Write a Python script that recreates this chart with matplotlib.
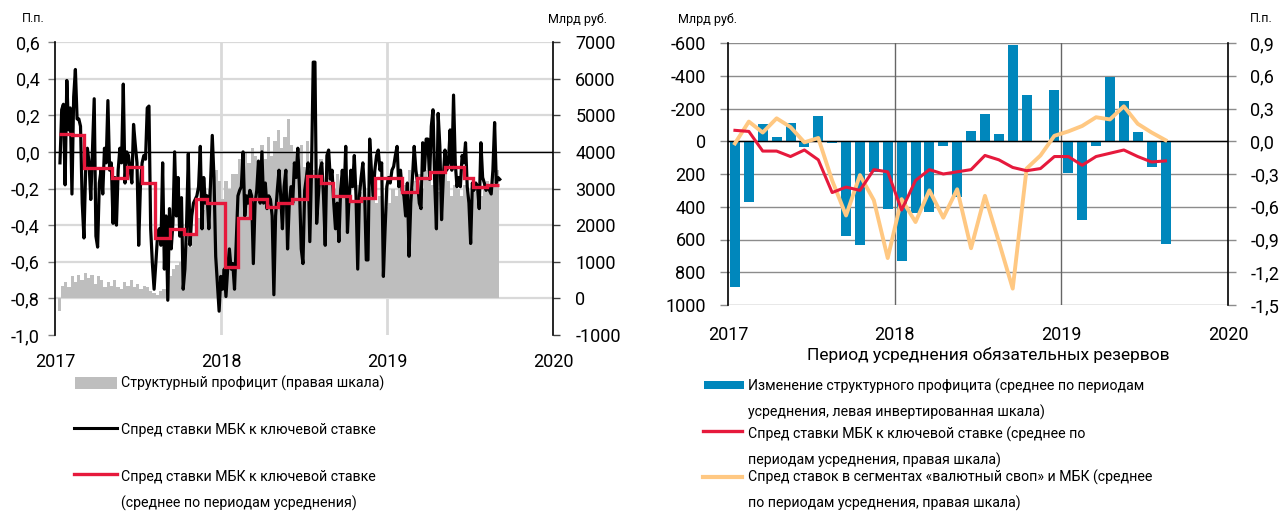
import numpy as np
import matplotlib.pyplot as plt
from matplotlib.lines import Line2D
from matplotlib.patches import Rectangle
import matplotlib.transforms as mtransforms

plt.rcParams['font.family'] = ['Roboto', 'DejaVu Sans']
plt.rcParams['axes.unicode_minus'] = False

W, H = 1286, 515

# ---------------- data: left panel (months since Jan 2017) ----------------
# daily spread of interbank rate to key rate, p.p.
spread = [
    -0.06, 0.23, 0.26, -0.18, 0.39, 0.12, 0.24, -0.23, 0.30, 0.45, 0.18, 0.18, 0.14, -0.28, -0.47,
    -0.10, 0.02, -0.06, -0.26, 0.02, 0.29, -0.46, -0.52, -0.17, -0.10, -0.23, 0.02, -0.06, 0.28,
    -0.10, -0.06, -0.39, -0.14, -0.40, -0.10, 0.02, -0.06, 0.37, -0.17, 0.00, -0.02, -0.10, -0.17,
    0.15, 0.04, -0.06, -0.51, -0.19, -0.06, -0.02, -0.04, 0.24, 0.25, -0.42, -0.61, -0.75, -0.61,
    -0.46, -0.42,
    -0.51, -0.06, -0.64, -0.35, -0.81, -0.31, -0.53, -0.39, 0.00, -0.35, -0.14, -0.46, -0.25, -0.75,
    -0.64, -0.39, -0.01, -0.51, -0.35, -0.28, -0.26, -0.24, -0.19, 0.03, -0.42, -0.14, -0.28, -0.24,
    -0.42, -0.17, 0.09, -0.14, -0.57, -0.72, -0.87, -0.68, -0.75, -0.64, -0.79, -0.64, -0.53, -0.64,
    -0.61, -0.75, -0.50, -0.24, -0.21, -0.19, 0.00, -0.35, -0.24, -0.28, -0.21, -0.24, -0.61, -0.28,
    -0.21, -0.05, -0.28, 0.00, -0.28, -0.17, -0.31, -0.24, -0.26,
    -0.35, -0.78, -0.35, -0.21, -0.10, -0.24, -0.42, -0.19, -0.10, -0.53, -0.28, -0.19, -0.28, -0.06,
    -0.14, 0.02, -0.21, -0.53, -0.61, -0.21, -0.14, -0.06, -0.49, -0.10, 0.49, 0.49, -0.39, -0.24,
    -0.10, -0.06, -0.24, -0.51, -0.02, 0.01, -0.15, -0.10, -0.28, -0.42, -0.28, -0.49, -0.21, -0.10,
    -0.24, 0.03, -0.44, -0.24, -0.10, -0.19, -0.02, -0.24, -0.64, -0.24, -0.14, -0.06, -0.21, -0.59,
    -0.59, 0.07, -0.10, -0.24, -0.10, -0.02, 0.01, -0.10, -0.06, -0.68,
    -0.42, -0.19, -0.14, -0.17, -0.10, -0.08, -0.02, 0.03, -0.19, -0.10, -0.21, -0.24, -0.35, -0.17,
    -0.57, -0.28, -0.14, 0.03, -0.10, -0.17, -0.28, -0.31, 0.05, -0.10, 0.07, 0.07, -0.15, 0.14,
    0.23, -0.17, -0.42, 0.21, 0.03, -0.37, -0.14, 0.01, -0.10, -0.06, 0.12, -0.10, 0.31, -0.06,
    -0.19, -0.14, -0.19, -0.02, -0.06, 0.05, -0.19, -0.28, -0.50, -0.17, -0.21, -0.17, -0.19, -0.31,
    0.05, -0.14, -0.17, -0.21, -0.19, -0.21, -0.23, -0.10, 0.16, -0.17, -0.14, -0.15,
]
spread_start, spread_end = 0.36, 32.15

# weekly structural liquidity surplus, bn rub
surplus = [
    -350, 350, 450, 300, 600, 450, 650, 500, 700, 550, 650, 400, 600, 500, 300, 450,
    350, 500, 300, 250, 450, 350, 500, 300, 400, 250, 350, 300, 200, 150, 100, 200, 250,
    450, 600, 800, 900, 1000, 1200, 1500, 1400, 1700, 2000, 2200, 2400, 2700, 3000, 3300, 3500, 3200,
    2700, 3200, 3000, 3400, 3400, 3800, 3600, 4000, 3700, 4100, 3900, 3600, 4200, 3800, 4400, 3900,
    4300, 4600, 4100, 4400, 4900, 4200, 4000, 3800, 4200, 3600, 4300, 3700, 3500, 3300, 3800, 3100,
    3500, 3200, 3000, 3400, 2900, 3000, 2800, 3300, 2600, 3100, 2900, 3200, 2700, 3000, 3200, 2600,
    2800, 2300, 2500,
    2600, 3000, 2800, 3200, 3300, 3100, 3500, 3000, 3200, 3400, 3000, 3500, 3300, 3100, 3400, 2900,
    3200, 3500, 3200, 2800, 3100, 3000, 2800, 3100, 2700, 2600, 2900, 3000, 2800, 3100, 3200, 3000,
    3400, 3500,
]
surplus_start, surplus_end = 0.3, 32.0

# spread averaged over reserve averaging periods, p.p.
avg_spread = [0.10, 0.09, -0.09, -0.09, -0.14, -0.08, -0.17, -0.47, -0.42, -0.45, -0.26, -0.28,
              -0.63, -0.36, -0.26, -0.30, -0.28, -0.26, -0.13, -0.17, -0.24, -0.27, -0.25, -0.14,
              -0.14, -0.22, -0.14, -0.11, -0.08, -0.14, -0.19, -0.18]
period_edges = [0.3, 1.2, 2.1, 3.1, 4.1, 5.2, 6.3, 7.2, 8.3, 9.3, 10.2, 11.0, 12.3, 13.25, 14.1,
                15.3, 16.1, 17.1, 18.2, 19.2, 20.1, 21.3, 22.1, 23.1, 24.1, 25.1, 26.15, 27.1,
                28.2, 29.6, 30.2, 31.2, 32.1]

# ---------------- data: right panel ----------------
surplus_change = [890, 370, -105, -24, -112, 35, -153, 12, 579, 632, 190, 416, 734, 440, 434, 30,
                  343, -63, -165, -43, -585, -281, -3, -312, 196, 483, 28, -393, -247, -55, 157, 626]
swap_spread = [-0.02, 0.18, 0.08, 0.21, 0.13, -0.01, 0.03, -0.36, -0.68, -0.31, -0.54, -1.07,
               -0.53, -0.74, -0.45, -0.70, -0.44, -0.98, -0.50, -0.92, -1.35, -0.25, -0.13, 0.05,
               0.09, 0.14, 0.22, 0.20, 0.32, 0.16, 0.08, 0.01]

years = ['2017', '2018', '2019', '2020']
year_pos = [0, 12, 24, 36]

RED = '#E6193C'
BLUE = '#0087BC'
ORANGE = '#FFC882'
GRAY = '#BEBEBE'


def comma(v, _=None):
    s = f"{v:.1f}".replace('.', ',')
    return '0,0' if s == '-0,0' else s


def box(l, t, r, b):
    return [l / W, 1 - b / H, (r - l) / W, (b - t) / H]


fig = plt.figure(figsize=(W / 100, H / 100), dpi=100)

# ================= left panel =================
ax1 = fig.add_axes(box(55, 42, 553, 335))
ax1r = ax1.twinx()
ax1.set_zorder(ax1r.get_zorder() + 1)
ax1.patch.set_visible(False)

for v in range(0, 8000, 1000):
    ax1r.axhline(v, color='#d9d9d9', lw=1.6, zorder=0)
for p in year_pos[1:3]:
    ax1r.axvline(p, color='#d9d9d9', lw=2, zorder=0)

t_s = np.linspace(surplus_start, surplus_end, len(surplus))
step = t_s[1] - t_s[0]
ax1r.bar(t_s, surplus, width=step, color=GRAY, linewidth=0, zorder=1)

ax1.axhline(0, color='black', lw=1, zorder=1)
t_d = np.linspace(spread_start, spread_end, len(spread))
ax1.plot(t_d, spread, color='black', lw=2.3, solid_joinstyle='round', zorder=2)
ax1.stairs(avg_spread, period_edges, color=RED, lw=2.4, baseline=None, zorder=3)

ax1.set_xlim(0, 36)
ax1.set_ylim(-1.0, 0.6)
ax1r.set_ylim(-1000, 7000)
ax1.set_yticks(np.round(np.arange(-1.0, 0.61, 0.2), 1))
ax1.yaxis.set_major_formatter(comma)
ax1r.set_yticks(range(-1000, 7001, 1000))
ax1.set_xticks(year_pos)
ax1.set_xticklabels(years)

for s in ['top', 'right', 'bottom']:
    ax1.spines[s].set_visible(False)
for s in ['top', 'left', 'bottom']:
    ax1r.spines[s].set_visible(False)
ax1.spines['left'].set_linewidth(1.2)
ax1r.spines['right'].set_linewidth(1.2)
ax1.tick_params(axis='y', direction='out', length=5, width=1, color='#808080', labelsize=13, pad=6)
ax1r.tick_params(axis='y', direction='out', length=5, width=1, color='#404040', labelsize=13, pad=11)
ax1.tick_params(axis='x', length=0, labelsize=13, pad=13)

fig.text(33 / W, 1 - 18 / H, 'П.п.', ha='center', va='center', fontsize=9)
fig.text(577 / W, 1 - 19 / H, 'Млрд руб.', ha='center', va='center', fontsize=9)

# ================= right panel =================
ax2 = fig.add_axes(box(728, 43, 1228, 305))
ax2r = ax2.twinx()

for v in range(-600, 1001, 200):
    ax2.axhline(v, color='#8c8c8c', lw=1, zorder=0)
for p in year_pos[1:3]:
    ax2.axvline(p, color='#666666', lw=1, zorder=0)

months = np.arange(len(surplus_change)) + 0.5
ax2.bar(months, surplus_change, width=0.72, color=BLUE, linewidth=0, zorder=2)
ax2.axhline(0, color='black', lw=1, zorder=3)

ax2r.plot(months, swap_spread, color=ORANGE, lw=2.8, solid_joinstyle='round')
ax2r.plot(months, avg_spread, color=RED, lw=2.2, solid_joinstyle='round')

ax2.set_xlim(0, 36)
ax2.set_ylim(1000, -600)
ax2r.set_ylim(-1.5, 0.9)
ax2.set_yticks(range(-600, 1001, 200))
ax2r.set_yticks(np.round(np.arange(-1.5, 0.91, 0.3), 1))
ax2r.yaxis.set_major_formatter(comma)
ax2.set_xticks(year_pos)
ax2.set_xticklabels(years)
shift = mtransforms.ScaledTranslation(7 / 100, 0, fig.dpi_scale_trans)
for lab in ax2.get_xticklabels():
    lab.set_transform(lab.get_transform() + shift)

for a in (ax2, ax2r):
    a.spines['top'].set_visible(False)
    a.spines['bottom'].set_visible(False)
ax2.spines['right'].set_visible(False)
ax2r.spines['left'].set_visible(False)
ax2.spines['left'].set_linewidth(1.2)
ax2r.spines['right'].set_linewidth(1.2)
ax2.tick_params(axis='y', direction='out', length=6, width=1, color='#8c8c8c', labelsize=13, pad=10)
ax2r.tick_params(axis='y', direction='out', length=6, width=1, color='#8c8c8c', labelsize=13, pad=10)
ax2.tick_params(axis='x', length=0, labelsize=13, pad=15)

fig.text(988 / W, 1 - 355 / H, 'Период усреднения обязательных резервов',
         ha='center', va='center', fontsize=12.5)
fig.text(707 / W, 1 - 19 / H, 'Млрд руб.', ha='center', va='center', fontsize=9)
fig.text(1261 / W, 1 - 19 / H, 'П.п.', ha='center', va='center', fontsize=9)

# ================= legends =================
def legend_text(x, y, lines):
    for i, s in enumerate(lines):
        fig.text(x / W, 1 - (y + 26 * i) / H, s, ha='left', va='center', fontsize=10.2)


def legend_line(x0, x1, y, color, lw):
    fig.add_artist(Line2D([x0 / W, x1 / W], [1 - y / H, 1 - y / H], color=color, lw=lw,
                          transform=fig.transFigure))


def legend_patch(x0, y0, x1, y1, color):
    fig.add_artist(Rectangle((x0 / W, 1 - y1 / H), (x1 - x0) / W, (y1 - y0) / H, color=color,
                             transform=fig.transFigure, lw=0))


legend_patch(75, 377, 117, 389, GRAY)
legend_text(121, 383, ['Структурный профицит (правая шкала)'])
legend_line(74, 117, 428, 'black', 2.2)
legend_text(121, 430, ['Спред ставки МБК к ключевой ставке'])
legend_line(74, 117, 474, RED, 2.4)
legend_text(121, 477, ['Спред ставки МБК к ключевой ставке', '(среднее по периодам усреднения)'])

legend_patch(704, 381, 744, 389, BLUE)
legend_text(748, 386, ['Изменение структурного профицита (среднее по периодам',
                       'усреднения, левая инвертированная шкала)'])
legend_line(703, 742, 431, RED, 2.4)
legend_text(748, 434, ['Спред ставки МБК к ключевой ставке (среднее по',
                       'периодам усреднения, правая шкала)'])
legend_line(703, 742, 477, ORANGE, 3)
legend_text(748, 477, ['Спред ставок в сегментах «валютный своп» и МБК (среднее',
                       'по периодам усреднения, правая шкала)'])

fig.savefig('out.png', dpi=100)
